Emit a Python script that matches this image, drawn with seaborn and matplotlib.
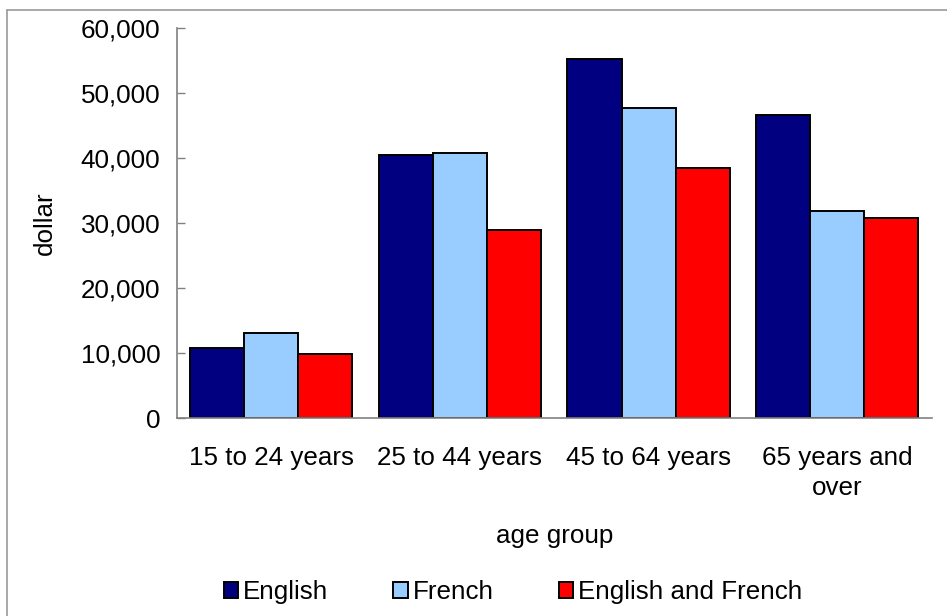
import pandas as pd
import matplotlib.pyplot as plt
import seaborn as sns
from matplotlib.patches import Patch
from matplotlib.lines import Line2D

# data
age_groups = ["15 to 24 years", "25 to 44 years", "45 to 64 years", "65 years and\nover"]
languages = ["English", "French", "English and French"]
english = [10700, 40400, 55200, 46600]
french = [13100, 40700, 47700, 31900]
english_french = [9900, 28900, 38400, 30800]
colors = ["#000080", "#99CCFF", "#FF0000"]

df = pd.DataFrame({
    "age group": age_groups * 3,
    "language": [languages[0]] * 4 + [languages[1]] * 4 + [languages[2]] * 4,
    "dollar": english + french + english_french,
})

sns.set_style("white")
plt.rcParams["font.family"] = ["Liberation Sans", "DejaVu Sans"]
plt.rcParams["text.color"] = "black"
plt.rcParams["axes.labelcolor"] = "black"

FS = 18.7

fig = plt.figure(figsize=(9.47, 6.16), dpi=100)
ax = fig.add_axes([177 / 947, 1 - 418 / 616, (931.5 - 177) / 947, (418 - 28) / 616])

sns.barplot(data=df, x="age group", y="dollar", hue="language", order=age_groups,
            hue_order=languages, palette=colors, width=0.86, gap=0,
            edgecolor="black", linewidth=1.4, saturation=1, legend=False, ax=ax)

ax.set_ylim(0, 60000)
ax.set_xlim(-0.5, 3.5)
ax.set_yticks(range(0, 60001, 10000))
ax.set_yticklabels([f"{v:,}" for v in range(0, 60001, 10000)])
ax.tick_params(axis="y", direction="in", length=6, width=1, color="#808080",
               labelcolor="black", labelsize=FS, pad=12, left=True)
ax.tick_params(axis="x", length=0, labelsize=FS, labelcolor="black", pad=20)
for lbl in ax.get_xticklabels():
    lbl.set_linespacing(1.35)

for side in ["top", "right"]:
    ax.spines[side].set_visible(False)
for side in ["left", "bottom"]:
    ax.spines[side].set_color("#808080")
    ax.spines[side].set_linewidth(1.2)

ax.set_ylabel("dollar", fontsize=FS, labelpad=17)
ax.set_xlabel("age group", fontsize=FS, labelpad=17)

# legend below the axis label
handles = [Patch(facecolor=c, edgecolor="black", linewidth=1.4) for c in colors]
fig.legend(handles, languages, loc="center", bbox_to_anchor=(513 / 947, 1 - 592 / 616),
           ncol=3, frameon=False, fontsize=FS, handlelength=0.55, handleheight=0.55,
           handletextpad=0.2, columnspacing=2.5)

# thin gray frame round the chart area (top and left edges visible)
fig.add_artist(Line2D([7 / 947, 1.0], [1 - 10 / 616, 1 - 10 / 616], color="#999999", lw=1.2,
                      transform=fig.transFigure))
fig.add_artist(Line2D([7 / 947, 7 / 947], [0.0, 1 - 10 / 616], color="#999999", lw=1.2,
                      transform=fig.transFigure))

fig.savefig("out.png", dpi=100)
